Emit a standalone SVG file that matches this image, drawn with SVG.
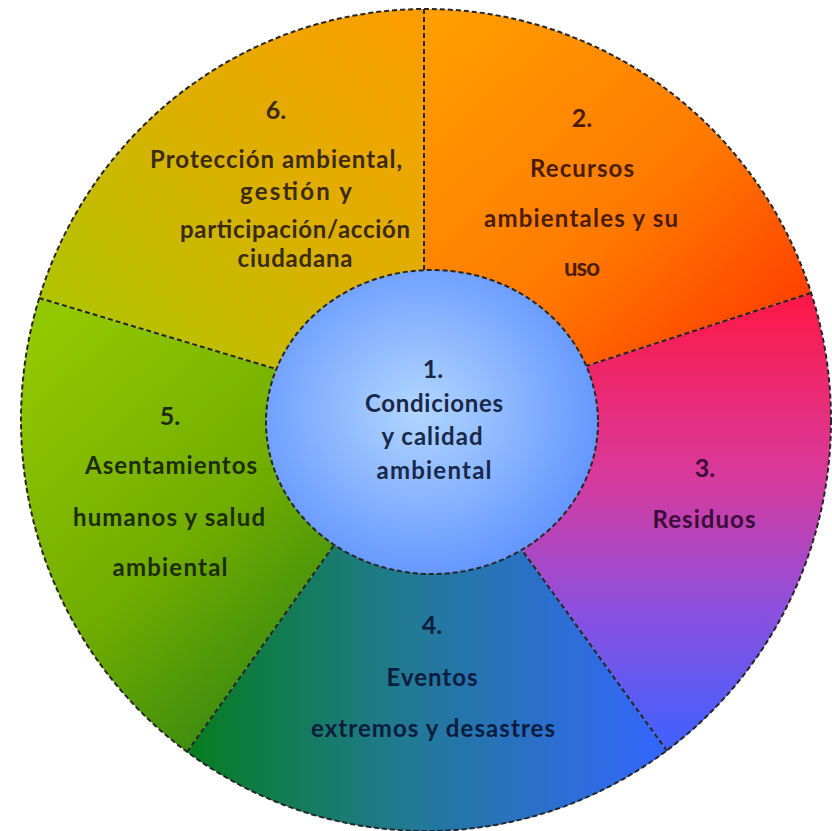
<svg xmlns="http://www.w3.org/2000/svg" width="832" height="831" viewBox="0 0 832 831">
<defs>
<linearGradient id="g6" x1="0" y1="1" x2="1" y2="0">
<stop offset="0" stop-color="#a6c800"/>
<stop offset="0.5" stop-color="#d8b200"/>
<stop offset="1" stop-color="#ff9c00"/>
</linearGradient>
<linearGradient id="g2" x1="0" y1="0" x2="1" y2="1">
<stop offset="0" stop-color="#ffa000"/>
<stop offset="0.55" stop-color="#ff7a00"/>
<stop offset="1" stop-color="#ff3000"/>
</linearGradient>
<linearGradient id="g3" x1="0" y1="0" x2="0" y2="1">
<stop offset="0" stop-color="#ff1744"/>
<stop offset="0.4" stop-color="#d83a9c"/>
<stop offset="0.7" stop-color="#8a50e0"/>
<stop offset="1" stop-color="#3d62ff"/>
</linearGradient>
<linearGradient id="g4" x1="0" y1="0" x2="1" y2="0">
<stop offset="0" stop-color="#067d1e"/>
<stop offset="0.45" stop-color="#217a92"/>
<stop offset="1" stop-color="#3366ff"/>
</linearGradient>
<linearGradient id="g5" x1="0.2" y1="0" x2="0.8" y2="1">
<stop offset="0" stop-color="#92c800"/>
<stop offset="0.55" stop-color="#70ac00"/>
<stop offset="1" stop-color="#2f8414"/>
</linearGradient>
<radialGradient id="g1" cx="0.46" cy="0.46" r="0.55">
<stop offset="0" stop-color="#b2d6ff"/>
<stop offset="1" stop-color="#6597ff"/>
</radialGradient>
</defs>
<style>
.dash{fill:none;stroke:#262626;stroke-width:2;stroke-dasharray:5 3}
text{font-family:Lato,"Liberation Sans",sans-serif;font-weight:bold;font-size:24px;text-anchor:middle}
.n{font-size:25px}
.t6{fill:#3a2a12}
.t2{fill:#4a1c06}
.t3{fill:#3c0c38}
.t4{fill:#0c1c3e}
.t5{fill:#1c2c08}
.t1{fill:#18284a}
</style>
<g id="segment-6">
<path d="M276,369 L39,298 A405,411 0 0 1 424,9 L424,270 Z" fill="url(#g6)"/>
<text class="t6 n" x="276" y="119">6.</text>
<text class="t6" x="276" y="168" textLength="252" lengthAdjust="spacing">Protección ambiental,</text>
<text class="t6" x="296" y="200" textLength="112" lengthAdjust="spacing">gestión  y</text>
<text class="t6" x="295" y="238" textLength="230" lengthAdjust="spacing">participación/acción</text>
<text class="t6" x="295" y="267" textLength="115" lengthAdjust="spacing">ciudadana</text>
</g>
<g id="segment-2">
<path d="M424,270 L424,9 A405,411 0 0 1 811,293 L586,366 Z" fill="url(#g2)"/>
<text class="t2 n" x="582" y="127">2.</text>
<text class="t2" x="582" y="177" textLength="104" lengthAdjust="spacing">Recursos</text>
<text class="t2" x="581" y="227" textLength="194" lengthAdjust="spacing">ambientales y su</text>
<text class="t2" x="582" y="276" textLength="36" lengthAdjust="spacing">uso</text>
</g>
<g id="segment-3">
<path d="M586,366 L811,293 A405,411 0 0 1 667,751 L522,550 Z" fill="url(#g3)"/>
<text class="t3 n" x="705" y="477">3.</text>
<text class="t3" x="704" y="528" textLength="103" lengthAdjust="spacing">Residuos</text>
</g>
<g id="segment-4">
<path d="M522,550 L667,751 A405,411 0 0 1 187,752 L334,545 Z" fill="url(#g4)"/>
<text class="t4 n" x="432" y="634">4.</text>
<text class="t4" x="432" y="686" textLength="91" lengthAdjust="spacing">Eventos</text>
<text class="t4" x="433" y="737" textLength="244" lengthAdjust="spacing">extremos y desastres</text>
</g>
<g id="segment-5">
<path d="M334,545 L187,752 A405,411 0 0 1 39,298 L276,369 Z" fill="url(#g5)"/>
<text class="t5 n" x="170" y="425">5.</text>
<text class="t5" x="171" y="474" textLength="172" lengthAdjust="spacing">Asentamientos</text>
<text class="t5" x="169" y="526" textLength="192" lengthAdjust="spacing">humanos y salud</text>
<text class="t5" x="170" y="576" textLength="115" lengthAdjust="spacing">ambiental</text>
</g>
<g id="connectors">
<line class="dash" x1="424" y1="9" x2="424" y2="270"/>
<line class="dash" x1="811" y1="293" x2="586" y2="366"/>
<line class="dash" x1="667" y1="751" x2="522" y2="550"/>
<line class="dash" x1="187" y1="752" x2="334" y2="545"/>
<line class="dash" x1="39" y1="298" x2="276" y2="369"/>
<ellipse class="dash" cx="426" cy="420" rx="405" ry="411"/>
</g>
<g id="node-1">
<ellipse cx="432" cy="422" rx="166" ry="152" fill="url(#g1)"/>
<ellipse class="dash" cx="432" cy="422" rx="166" ry="152"/>
<text class="t1 n" x="433" y="378">1.</text>
<text class="t1" x="434" y="412" textLength="138" lengthAdjust="spacing">Condiciones</text>
<text class="t1" x="432" y="445" textLength="101" lengthAdjust="spacing">y calidad</text>
<text class="t1" x="434" y="479" textLength="115" lengthAdjust="spacing">ambiental</text>
</g>
</svg>
